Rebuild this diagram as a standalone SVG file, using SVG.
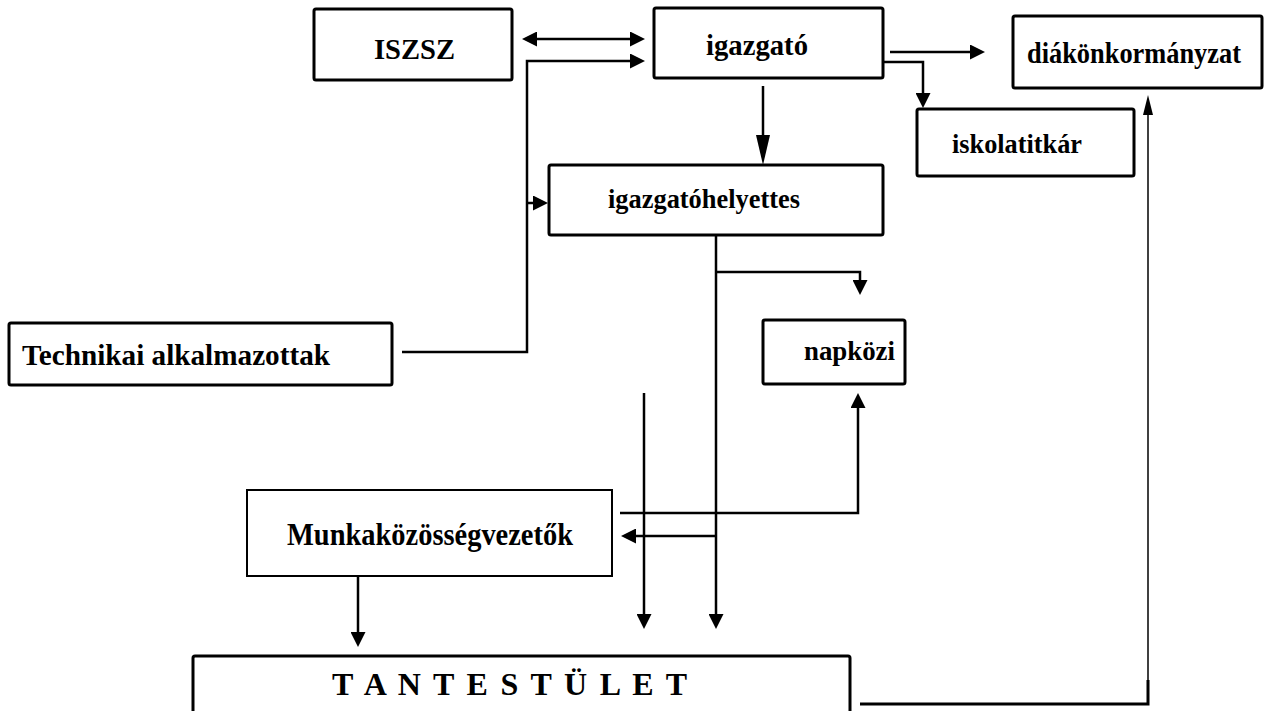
<svg xmlns="http://www.w3.org/2000/svg" width="1266" height="711" viewBox="0 0 1266 711">
<style>
.box{fill:#fff;stroke:#000;stroke-width:3}
.thin{stroke-width:2}
.lbl{font-family:"Liberation Serif","Times New Roman",serif;font-weight:bold;fill:#000}
.c{fill:none;stroke:#000;stroke-width:2.5}
.ct{fill:none;stroke:#000;stroke-width:1.5}
</style>
<defs>
<marker id="arr" markerUnits="userSpaceOnUse" viewBox="0 0 15 15" refX="5" refY="7.5" markerWidth="15" markerHeight="15" orient="auto-start-reverse">
<path d="M0,0 L15,7.5 L0,15 z" fill="#000"/>
</marker>
<marker id="arrL" markerUnits="userSpaceOnUse" viewBox="0 0 30 14" refX="10" refY="7" markerWidth="30" markerHeight="14" orient="auto">
<path d="M0,0 L30,7 L0,14 z" fill="#000"/>
</marker>
<marker id="arrT" markerUnits="userSpaceOnUse" viewBox="0 0 20 10" refX="8" refY="5" markerWidth="20" markerHeight="10" orient="auto">
<path d="M0,0 L20,5 L0,10 z" fill="#000"/>
</marker>
</defs>
<rect width="1266" height="711" fill="#fff"/>

<g id="connectors">
<path class="c" d="M532,39 H635" marker-start="url(#arr)" marker-end="url(#arr)"/>
<path class="c" d="M402,352 H527 V61 H635" marker-end="url(#arr)"/>
<path class="c" d="M527,203 H538" marker-end="url(#arr)"/>
<path class="c" d="M890,52 H975" marker-end="url(#arr)"/>
<path class="c" d="M884,62 H923 V98" marker-end="url(#arr)"/>
<path class="c" d="M763,86 V145" marker-end="url(#arrL)"/>
<path class="c" d="M716,235 V619" marker-end="url(#arr)"/>
<path class="c" d="M716,272 H860 V285" marker-end="url(#arr)"/>
<path class="c" d="M716,536 H631" marker-end="url(#arr)"/>
<path class="c" d="M644,393 V619" marker-end="url(#arr)"/>
<path class="c" d="M620,513 H858 V403" marker-end="url(#arr)"/>
<path class="c" d="M358,576 V637" marker-end="url(#arr)"/>
<path class="c" style="stroke-width:3" d="M860,704 H1148 V680"/>
<path class="ct" d="M1148,681 V107" marker-end="url(#arrT)"/>
</g>

<g id="iszsz">
<rect class="box" x="314" y="9" width="198" height="71" rx="2"/>
<text class="lbl" x="374" y="59" font-size="30" textLength="81" lengthAdjust="spacingAndGlyphs">ISZSZ</text>
</g>
<g id="igazgato">
<rect class="box" x="654" y="8" width="229" height="70" rx="2"/>
<text class="lbl" x="706" y="55" font-size="30" textLength="102" lengthAdjust="spacingAndGlyphs">igazgató</text>
</g>
<g id="diakonkormanyzat">
<rect class="box" x="1013" y="16" width="249" height="72" rx="2"/>
<text class="lbl" x="1027" y="63" font-size="29" textLength="214" lengthAdjust="spacingAndGlyphs">diákönkormányzat</text>
</g>
<g id="iskolatitkar">
<rect class="box" x="917" y="109" width="217" height="67" rx="2"/>
<text class="lbl" x="952" y="153" font-size="27" textLength="130" lengthAdjust="spacingAndGlyphs">iskolatitkár</text>
</g>
<g id="igazgatohelyettes">
<rect class="box" x="549" y="165" width="334" height="70" rx="2"/>
<text class="lbl" x="608" y="208" font-size="27" textLength="192" lengthAdjust="spacingAndGlyphs">igazgatóhelyettes</text>
</g>
<g id="technikai">
<rect class="box" x="9" y="323" width="383" height="62" rx="2"/>
<text class="lbl" x="22" y="365" font-size="30" textLength="308" lengthAdjust="spacingAndGlyphs">Technikai alkalmazottak</text>
</g>
<g id="napkozi">
<rect class="box" x="763" y="320" width="142" height="64" rx="2"/>
<text class="lbl" x="804" y="360" font-size="27" textLength="91" lengthAdjust="spacingAndGlyphs">napközi</text>
</g>
<g id="munkakozossegvezetok">
<rect class="box thin" x="247" y="490" width="365" height="86"/>
<text class="lbl" x="287" y="545" font-size="32" textLength="286" lengthAdjust="spacingAndGlyphs">Munkaközösségvezetők</text>
</g>
<g id="tantestulet">
<rect class="box" x="193" y="656" width="657" height="80" rx="2"/>
<text class="lbl" x="332" y="695" font-size="32" textLength="355" lengthAdjust="spacing">T A N T E S T Ü L E T</text>
</g>
</svg>
